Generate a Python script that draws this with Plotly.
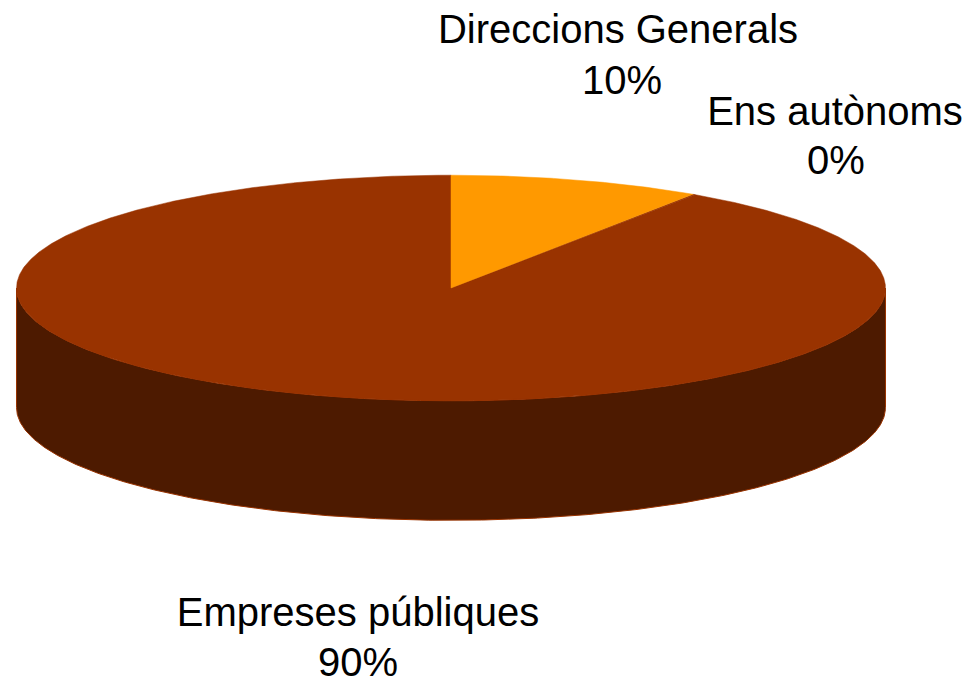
import numpy as np
import plotly.graph_objects as go

categories = ["Direccions Generals", "Ens autònoms", "Empreses públiques"]
shares = [9.4, 0.1, 90.5]
percent_labels = ["10%", "0%", "90%"]
slice_colors = ["#FF9900", "#993300", "#993300"]
side_color = "#4D1A00"
edge_color = "#993300"

# Pie geometry in page pixels
W, H = 972, 682
CX, CY, RX, RY, DEPTH = 451, 288, 434.5, 112.8, 119.5
FONT_SIZE = 40
NAME_POS = [(618, 33), (835, 114.5), (358, 616)]
PCT_POS = [(622, 84), (836, 163.5), (358, 665.5)]


def ellipse_point(turn, dy=0.0):
    a = 2 * np.pi * np.asarray(turn)
    return CX + RX * np.sin(a), CY + dy - RY * np.cos(a)


fig = go.Figure()

# Side wall: front half of the rim, from the right extreme to the left extreme
t = np.linspace(0.25, 0.75, 361)
xt, yt = ellipse_point(t)
xb, yb = ellipse_point(t[::-1], DEPTH)
fig.add_trace(go.Scatter(
    x=np.concatenate([xt, xb, xt[:1]]), y=np.concatenate([yt, yb, yt[:1]]),
    mode="lines", fill="toself", fillcolor=side_color,
    line=dict(color=edge_color, width=1), hoverinfo="skip", showlegend=False))

# Top face: one wedge per category, clockwise from twelve o'clock
cum = 0.0
order = [2, 1, 0]
wedges = []
for i, share in enumerate(shares):
    start, end = cum / 100, (cum + share) / 100
    cum += share
    wedges.append((i, start, end))
for i, start, end in [wedges[j] for j in order]:
    n = max(2, int((end - start) * 1440))
    xs, ys = ellipse_point(np.linspace(start, end, n))
    fig.add_trace(go.Scatter(
        x=np.concatenate([[CX], xs, [CX]]), y=np.concatenate([[CY], ys, [CY]]),
        mode="lines", fill="toself", fillcolor=slice_colors[i],
        line=dict(color=slice_colors[i], width=0.5), name=categories[i],
        hoverinfo="name", showlegend=False))

# Labels
for name, pct, (nx, ny), (px, py) in zip(categories, percent_labels, NAME_POS, PCT_POS):
    fig.add_trace(go.Scatter(
        x=[nx, px], y=[ny, py], mode="text", text=[name, pct],
        textposition="middle center", cliponaxis=False,
        textfont=dict(family="Liberation Sans", size=FONT_SIZE, color="#000000"),
        hoverinfo="skip", showlegend=False))

fig.update_layout(
    width=W, height=H, autosize=False,
    margin=dict(l=0, r=0, t=0, b=0),
    paper_bgcolor="white", plot_bgcolor="white",
    xaxis=dict(range=[0, W], visible=False, fixedrange=True),
    yaxis=dict(range=[H, 0], visible=False, fixedrange=True),
)
fig.write_html("out.html", config={"displayModeBar": False},
               post_script="document.body.style.margin='0';document.body.style.overflow='hidden';")
